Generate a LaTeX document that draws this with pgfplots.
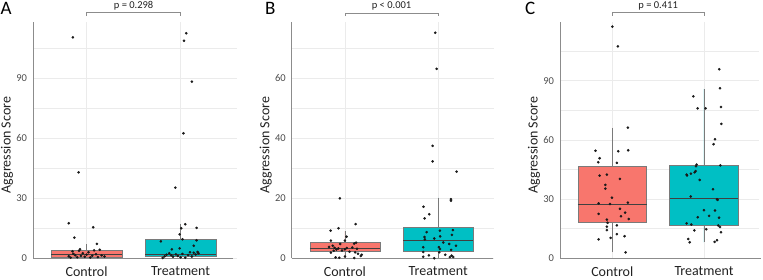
\documentclass[border=0pt]{standalone}
\usepackage{fontspec}
\setmainfont{Carlito}
\usepackage{pgfplots}
\pgfplotsset{compat=1.18}
\usepgfplotslibrary{statistics}
\definecolor{ctrl}{HTML}{F8766D}
\definecolor{trt}{HTML}{00BFC4}
\definecolor{gridc}{HTML}{EBEBEB}
\definecolor{axc}{HTML}{8C8C8C}
\definecolor{boxc}{HTML}{7A7A7A}
\definecolor{medc}{HTML}{404040}
\definecolor{tickc}{HTML}{4D4D4D}
\definecolor{txtc}{HTML}{222222}
\tikzset{
  xline/.style={draw=axc, line width=0.8pt},
  brk/.style={draw=axc, line width=0.7pt},
  plab/.style={font=\fontsize{10.5}{12}\selectfont, text=txtc},
}
\pgfplotsset{
  panel/.style={
    scale only axis, height=236.6pt, xmin=0.43, xmax=2.6, ymin=0,
    anchor=south west, clip=false,
    axis lines*=left,
    x axis line style={draw=none},
    y axis line style={draw=axc, line width=0.8pt},
    xtick={1,2}, xticklabels={Control,Treatment},
    major tick length=0pt, minor tick length=0pt,
    xmajorgrids, ymajorgrids, yminorgrids,
    major grid style={gridc, line width=0.6pt},
    minor grid style={gridc, line width=0.45pt},
    /pgf/number format/assume math mode=true,
    yticklabel style={font=\fontsize{10.5}{12}\selectfont, text=tickc, xshift=-2.5pt},
    xticklabel style={font=\fontsize{14}{16}\selectfont, text=txtc, yshift=-5pt},
    ylabel={Aggression Score},
    every axis y label/.style={at={([xshift=-26pt,yshift=-5pt]rel axis cs:0,0.5)}, rotate=90, anchor=center, font=\fontsize{14}{16}\selectfont, text=txtc},
    boxplot/draw direction=y,
    boxplot/box extend=0.75, boxplot/whisker extend=0,
    boxplot/every box/.style={draw=boxc, line width=0.6pt},
    boxplot/every whisker/.style={draw=boxc, line width=0.6pt},
    boxplot/every median/.style={draw=medc, line width=1.1pt},
  },
  pts/.style={only marks, mark=*, mark size=1.1pt, color=black!90},
}
\begin{document}
\begin{tikzpicture}
\useasboundingbox (0,0) rectangle (763pt,280pt);
% ---------------- Panel A
\begin{axis}[panel, at={(33pt,21.7pt)}, width=204pt, ymax=118.3,
  ytick={0,30,60,90}, minor ytick={15,45,75,105}]
\draw[xline] (rel axis cs:0,0) -- ++(240pt,0);
\addplot[boxplot prepared={median=1.7, upper quartile=4.2, lower quartile=0.5, upper whisker=7.2, lower whisker=0, draw position=1}, fill=ctrl, draw=boxc] coordinates {};
\addplot[boxplot prepared={median=2.0, upper quartile=9.5, lower quartile=0.8, upper whisker=17.2, lower whisker=0, draw position=2}, fill=trt, draw=boxc] coordinates {};
\addplot[pts] coordinates {
(0.854,110.5) (0.915,43) (0.81,17.5) (1.07,15.5) (0.87,10.3) (1.11,7.2)
(0.81,1.0) (0.83,0.3) (0.86,2.2) (0.88,1.5) (0.90,0.5) (0.92,3.8) (0.94,1.2)
(0.96,2.5) (0.98,0.8) (1.00,1.8) (1.02,3.0) (1.04,0.4) (1.06,1.3) (1.08,4.0)
(1.10,2.0) (1.12,0.6) (1.14,4.3) (1.16,1.5) (1.19,0.9) (0.93,4.5) (0.85,3.5)
};
\addplot[pts] coordinates {
(2.06,112.5) (2.036,108.8) (2.12,88.3) (2.03,62.5) (1.944,35.3) (2.05,17)
(2.17,15.2) (2.007,15) (1.99,12) (2.02,9.5) (1.79,8.5) (2.17,9) (2.14,6.3)
(1.907,4.5) (1.99,5)
(1.81,0.2) (1.83,1.0) (1.85,1.8) (1.88,2.5) (1.90,1.5) (1.92,0.8) (1.95,2.0)
(1.97,1.2) (2.00,0.5) (2.02,2.2) (2.05,0.3) (2.08,1.6) (2.10,3.0) (2.12,0.9)
(2.14,2.8) (2.16,1.9) (2.18,3.2) (2.19,2.5)
};
\draw[brk] (axis cs:1,121.1) -- (axis cs:1,123) -- (axis cs:2,123) -- (axis cs:2,121.1);
\node[plab] at (axis cs:1.5,126.4) {p = 0.298};
\end{axis}
% ---------------- Panel B
\begin{axis}[panel, at={(291.7pt,21.7pt)}, width=202.5pt, ymax=78.9,
  ytick={0,20,40,60}, minor ytick={10,30,50,70}]
\draw[xline] (rel axis cs:0,0) -- ++(241pt,0);
\addplot[boxplot prepared={median=3.3, upper quartile=5.3, lower quartile=2.2, upper whisker=9.1, lower whisker=0, draw position=1}, fill=ctrl, draw=boxc] coordinates {};
\addplot[boxplot prepared={median=5.9, upper quartile=10.2, lower quartile=2.2, upper whisker=20.2, lower whisker=0, draw position=2}, fill=trt, draw=boxc] coordinates {};
\addplot[pts] coordinates {
(0.946,20) (0.932,10) (1.115,11.4) (0.847,9.2) (1.018,7.2) (1.0,5.9)
(0.85,5.9) (0.87,4.2) (0.83,3.8) (0.89,3.5) (0.91,2.9) (0.93,3.3) (0.88,2.5)
(0.95,4.8) (0.97,2.6) (1.00,3.0) (1.02,3.4) (1.05,2.2) (1.08,3.6) (1.10,4.9)
(1.12,5.2) (1.13,3.2) (1.11,2.0) (0.90,0.3) (0.94,0.2) (1.00,0.6) (1.14,1.5)
(1.17,0.8) (1.18,1.2) (1.10,0.1) (0.85,1.9)
};
\addplot[pts] coordinates {
(1.968,75.2) (1.983,63.2) (1.94,37.5) (1.94,32.3) (2.197,28.9) (2.136,19.7)
(2.136,19.2) (1.843,17.2) (1.904,14.7) (1.854,13.3) (2.158,9.4) (2.018,9.2)
(1.876,8.7) (2.147,7.8) (1.854,7.1) (2.021,7.3) (1.957,6.6) (1.857,6.3)
(2.054,5.3) (2.118,4.8) (2.19,4.2) (2.007,3.7) (1.839,3.7) (2.018,3.1)
(2.139,2.8) (1.839,2.1) (2.075,1.2) (2.143,0.9) (1.839,0.5) (1.9,1.0)
(1.957,0) (2.011,2.0) (2.125,0.4) (2.161,0.4)
};
\draw[brk] (axis cs:1,80.8) -- (axis cs:1,81.7) -- (axis cs:2,81.7) -- (axis cs:2,80.8);
\node[plab] at (axis cs:1.5,84.3) {p < 0.001};
\end{axis}
% ---------------- Panel C
\begin{axis}[panel, at={(560pt,21.7pt)}, width=199pt, ymax=119.9,
  ytick={0,30,60,90}, minor ytick={15,45,75,105}]
\draw[xline] (rel axis cs:0,0) -- ++(240pt,0);
\addplot[boxplot prepared={median=27.4, upper quartile=46.6, lower quartile=18.4, upper whisker=66.2, lower whisker=3.0, draw position=1}, fill=ctrl, draw=boxc] coordinates {};
\addplot[boxplot prepared={median=30.4, upper quartile=46.9, lower quartile=16.9, upper whisker=85.8, lower whisker=8.1, draw position=2}, fill=trt, draw=boxc] coordinates {};
\addplot[pts] coordinates {
(1.0,117.4) (1.061,107.4) (1.17,66.2) (0.818,54.5) (0.862,50.7) (0.847,48.7)
(1.065,54.2) (1.174,54.7) (1.05,48.4) (1.083,40.2) (0.862,41.9) (0.941,42.4)
(0.924,37.2) (0.924,35.3) (0.996,30.7) (0.851,27.8) (0.975,27.5) (1.17,28.2)
(1.083,25.1) (1.14,23.1) (0.851,22.5) (1.094,21.3) (1.18,19.9) (0.941,19.6)
(0.949,18.0) (0.941,16.0) (1.05,16.7) (0.941,14.3) (1.05,12.2) (0.982,10.3)
(0.851,9.6) (1.134,11.2) (1.145,3.0)
};
\addplot[pts] coordinates {
(2.167,95.8) (2.175,86.2) (1.884,82.1) (2.185,76.7) (1.931,76) (2.018,76)
(2.189,68.1) (2.12,60.3) (2.105,57.8) (2.178,47.1) (1.92,47.5) (1.913,46.7)
(1.909,44.2) (1.898,43.6) (1.858,42.9) (1.811,42.4) (1.815,42) (1.953,39.7)
(2.098,35) (1.855,31.3) (2.142,29.9) (2.149,29.6) (2.0,24.4) (2.12,24.2)
(2.055,21.5) (1.931,20.8) (2.164,20.6) (1.811,17.7) (1.862,17.1) (2.156,16.6)
(2.175,15.9) (1.895,14.1) (2.025,14.7) (2.185,13.2) (1.829,9.8) (1.844,8.1)
(2.142,9.1) (2.116,8.3)
};
\draw[brk] (axis cs:1,122.8) -- (axis cs:1,124.5) -- (axis cs:2,124.5) -- (axis cs:2,122.8);
\node[plab] at (axis cs:1.5,128.1) {p = 0.411};
\end{axis}
% panel letters
\node[anchor=base west, inner sep=0pt, font=\fontsize{19}{21}\selectfont] at (0.5pt,265pt) {A};
\node[anchor=base west, inner sep=0pt, font=\fontsize{19}{21}\selectfont] at (265pt,265pt) {B};
\node[anchor=base west, inner sep=0pt, font=\fontsize{19}{21}\selectfont] at (525pt,265pt) {C};
\end{tikzpicture}
\end{document}
